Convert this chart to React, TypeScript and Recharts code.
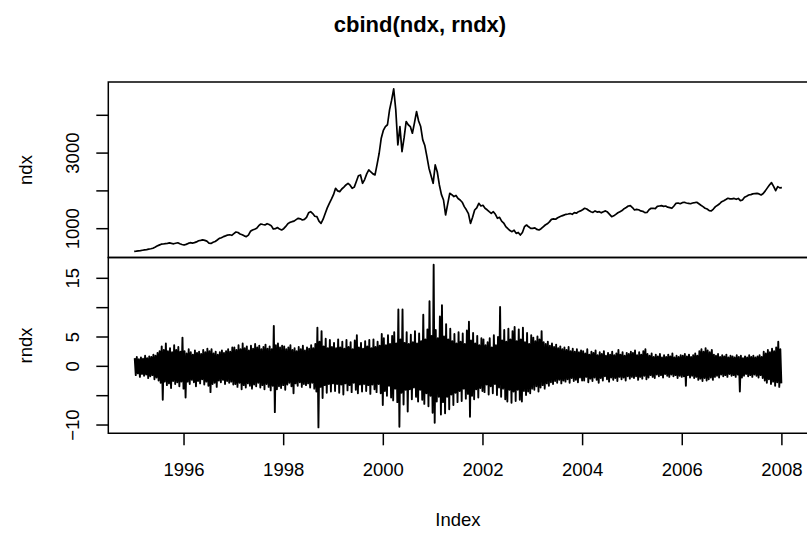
import React from 'react';
import { LineChart, Line, XAxis, YAxis, ReferenceArea } from 'recharts';

// both series are sampled twice a month, starting Jan 1995
const START_YEAR = 1995;
const STEPS_PER_YEAR = 24;

// ndx level (one value per half month, 1995 -> 2008)
const ndx = [
  // 1995
  400, 405, 412, 420, 430, 440, 448, 460, 470, 482, 510, 540, 565, 590, 595, 605, 612, 625, 610, 600, 615, 628, 600, 582,
  // 1996
  567, 585, 610, 629, 620, 630, 650, 680, 691, 705, 690, 670, 620, 610, 640, 660, 700, 744, 760, 790, 810, 832, 840, 825,
  // 1997
  870, 912, 900, 860, 840, 810, 788, 830, 930, 965, 985, 1010, 1080, 1124, 1110, 1100, 1132, 1110, 1080, 991, 1000, 1030, 990, 965,
  // 1998
  1000, 1060, 1130, 1168, 1185, 1200, 1240, 1274, 1260, 1230, 1247, 1300, 1420, 1450, 1400, 1330, 1318, 1200, 1141, 1250, 1400, 1550, 1671, 1780,
  // 1999
  1900, 2068, 2000, 1980, 2050, 2100, 2157, 2200, 2150, 2068, 2100, 2250, 2400, 2422, 2201, 2300, 2450, 2554, 2500, 2450, 2422, 2700, 2996, 3393,
  // 2000
  3600, 3702, 3750, 4143, 4400, 4700, 4143, 3216, 3702, 3040, 3400, 3834, 3750, 3702, 3525, 3800, 4099, 3850, 3702, 3349, 3200, 2907, 2600, 2400,
  // 2001
  2201, 2686, 2500, 2157, 1900, 1759, 1362, 1650, 1936, 1900, 1848, 1880, 1800, 1759, 1700, 1583, 1500, 1400, 1141, 1300, 1494, 1550, 1671, 1600,
  // 2002
  1620, 1539, 1500, 1450, 1406, 1450, 1380, 1274, 1300, 1200, 1150, 1053, 1000, 950, 921, 960, 876, 900, 832, 900, 1053, 1097, 1050, 1009,
  // 2003
  1009, 1020, 980, 965, 1000, 1050, 1097, 1130, 1180, 1247, 1260, 1250, 1290, 1318, 1340, 1360, 1380, 1389, 1400, 1380, 1424, 1410, 1450, 1470,
  // 2004
  1500, 1539, 1520, 1480, 1450, 1430, 1470, 1440, 1450, 1420, 1450, 1470, 1440, 1380, 1318, 1340, 1380, 1420, 1450, 1480, 1530, 1560, 1600, 1610,
  // 2005
  1560, 1494, 1510, 1500, 1470, 1460, 1424, 1430, 1500, 1539, 1540, 1530, 1590, 1600, 1609, 1590, 1600, 1570, 1556, 1540, 1600, 1671, 1680, 1660,
  // 2006
  1689, 1700, 1680, 1671, 1660, 1680, 1689, 1700, 1660, 1620, 1583, 1540, 1520, 1477, 1470, 1520, 1583, 1620, 1660, 1715, 1740, 1770, 1804, 1790,
  // 2007
  1790, 1800, 1777, 1800, 1742, 1760, 1830, 1860, 1892, 1900, 1920, 1930, 1936, 1920, 1892, 1930, 2000, 2080, 2157, 2219, 2120, 2006, 2113, 2080,
  // Jan 2008
  2086,
];

// rndx (returns, %): highest and lowest value seen in each half month, one row per year
const rndxHigh = [
  1.4, 1.6, 1.2, 1.5, 1.3, 1.8, 1.4, 1.7, 1.6, 2.0, 1.8, 2.3, 2.6, 3.4, 2.8, 3.9, 2.6, 3.1, 2.4, 3.6, 2.8, 3.3, 2.5, 4.9,
  2.6, 2.2, 2.9, 2.4, 2.0, 2.7, 2.3, 2.5, 2.1, 2.8, 2.4, 3.0, 2.6, 2.9, 2.2, 2.5, 2.0, 2.4, 2.7, 2.3, 2.6, 2.9, 2.5, 3.2,
  3.2, 2.8, 3.6, 2.9, 3.9, 3.1, 3.4, 2.7, 3.5, 3.0, 3.8, 3.2, 3.5, 2.9, 3.3, 3.7, 3.0, 3.4, 2.9, 6.9, 3.6, 3.9, 3.2, 3.5,
  3.4, 2.9, 3.2, 3.6, 2.8, 3.1, 2.6, 3.3, 2.9, 3.5, 2.7, 3.2, 3.0, 3.6, 3.1, 3.8, 6.6, 4.2, 6.0, 3.4, 4.7, 3.1, 4.5, 3.3,
  4.0, 3.1, 4.6, 3.2, 4.2, 3.0, 4.5, 3.3, 4.1, 2.9, 4.4, 5.3, 3.2, 4.0, 3.0, 4.3, 3.4, 4.5, 3.1, 4.6, 3.3, 4.2, 3.5, 5.5,
  4.8, 3.6, 5.3, 3.8, 5.2, 5.8, 3.9, 9.7, 4.6, 9.7, 4.0, 5.8, 3.8, 5.4, 4.1, 6.0, 3.9, 5.6, 4.3, 8.8, 4.6, 6.3, 11.1, 5.2,
  17.3, 6.2, 4.8, 8.5, 10.4, 5.1, 7.2, 4.6, 6.4, 4.3, 5.5, 3.9, 5.8, 4.2, 5.6, 3.8, 6.1, 7.6, 4.4, 5.7, 3.9, 5.2, 3.6, 4.8,
  4.6, 3.6, 4.1, 4.8, 3.2, 5.3, 3.6, 5.0, 10.1, 4.4, 6.2, 4.2, 6.4, 4.6, 6.0, 6.7, 4.3, 6.3, 4.6, 6.6, 4.1, 5.7, 3.8, 5.3,
  4.9, 4.3, 5.1, 4.6, 6.0, 4.1, 3.8, 4.2, 3.5, 3.9, 3.3, 3.7, 3.1, 3.4, 2.9, 3.2, 2.8, 3.3, 2.6, 3.0, 2.5, 2.9, 2.4, 2.7,
  2.6, 2.2, 2.9, 2.0, 2.5, 2.3, 2.7, 1.9, 2.4, 2.1, 2.6, 1.8, 2.3, 2.0, 2.5, 1.9, 2.2, 2.8, 2.0, 2.4, 1.8, 2.3, 2.1, 2.5,
  2.3, 2.7, 1.9, 2.4, 2.0, 2.6, 2.9, 2.1, 1.8, 2.2, 1.6, 2.0, 1.7, 2.1, 1.5, 1.9, 1.6, 2.0, 1.7, 2.2, 1.5, 1.8, 1.6, 1.9,
  1.8, 2.1, 1.7, 2.0, 1.6, 1.9, 2.2, 1.8, 2.6, 2.9, 2.5, 3.1, 2.7, 2.4, 2.8, 2.0, 1.8, 2.1, 1.6, 1.9, 1.7, 2.0, 1.5, 1.8,
  1.7, 1.5, 1.9, 1.6, 1.8, 1.4, 1.7, 1.5, 1.9, 1.6, 1.8, 1.5, 1.7, 1.9, 1.6, 2.5, 2.2, 2.8, 2.4, 3.0, 2.6, 3.2, 4.2, 2.9,
];

const rndxLow = [
  -1.5, -1.2, -1.8, -1.3, -1.6, -1.4, -2.0, -1.7, -1.5, -2.2, -1.9, -2.4, -2.8, -5.7, -2.6, -3.2, -2.9, -3.7, -2.5, -3.0, -2.7, -3.4, -2.6, -3.8,
  -5.3, -2.6, -3.0, -2.3, -2.7, -3.4, -2.5, -2.9, -2.2, -3.1, -2.6, -3.3, -4.4, -3.0, -2.8, -3.5, -2.4, -2.7, -2.3, -3.0, -2.5, -2.8, -2.6, -3.1,
  -3.0, -3.5, -2.8, -3.9, -3.2, -3.6, -2.9, -3.3, -3.8, -3.1, -3.4, -2.8, -3.6, -3.2, -3.9, -3.0, -3.5, -4.1, -3.3, -7.8, -3.9, -3.4, -3.7, -3.2,
  -4.0, -3.1, -2.8, -3.4, -4.6, -2.9, -3.3, -2.7, -3.5, -3.0, -3.2, -2.9, -3.6, -2.8, -3.8, -4.3, -10.4, -3.5, -5.4, -3.2, -4.5, -3.0, -4.3, -2.9,
  -4.2, -3.0, -4.5, -3.1, -4.8, -2.9, -4.1, -3.2, -4.4, -2.8, -4.0, -4.6, -3.1, -4.3, -3.0, -4.2, -3.2, -4.7, -3.1, -3.9, -4.4, -3.0, -4.6, -6.6,
  -4.2, -5.0, -3.3, -5.3, -5.8, -3.8, -6.1, -10.3, -4.5, -6.5, -4.0, -7.7, -3.9, -5.6, -3.6, -5.2, -6.0, -4.0, -5.7, -6.4, -4.6, -6.8, -5.0, -7.9,
  -9.6, -6.0, -5.2, -8.2, -6.1, -8.0, -5.2, -7.3, -4.8, -6.6, -4.5, -6.1, -4.2, -5.9, -3.8, -5.5, -4.7, -8.6, -5.0, -5.6, -3.9, -5.3, -3.7, -4.2,
  -4.4, -3.1, -4.8, -3.4, -4.6, -3.0, -4.9, -3.6, -5.2, -3.8, -5.6, -6.0, -4.0, -6.2, -4.3, -5.9, -4.0, -5.7, -6.0, -4.2, -4.9, -4.3, -4.6, -3.8,
  -4.0, -3.4, -4.3, -3.6, -3.2, -3.8, -2.9, -3.3, -2.7, -3.0, -2.5, -2.8, -2.3, -2.9, -2.4, -2.6, -2.2, -2.8, -2.0, -2.5, -2.3, -2.7, -1.9, -2.4,
  -2.4, -1.8, -2.7, -2.1, -2.5, -1.9, -2.3, -2.8, -2.0, -2.4, -1.7, -2.2, -2.6, -1.9, -2.3, -2.0, -2.5, -1.8, -2.2, -1.9, -2.4, -1.7, -2.1, -1.8,
  -2.0, -1.7, -2.3, -1.8, -2.1, -1.6, -2.2, -1.9, -1.5, -1.8, -2.0, -1.4, -1.7, -1.5, -1.9, -1.3, -1.6, -1.8, -1.4, -1.7, -1.5, -2.0, -1.6, -1.8,
  -1.7, -3.3, -1.5, -1.9, -1.6, -2.0, -1.8, -2.3, -2.1, -2.5, -2.0, -2.4, -2.2, -1.9, -2.3, -1.8, -1.6, -1.9, -1.4, -1.7, -1.5, -1.8, -1.3, -1.6,
  -1.5, -1.8, -1.4, -4.3, -1.9, -1.6, -1.3, -1.7, -1.5, -1.8, -1.4, -1.6, -1.9, -1.5, -2.0, -2.4, -2.8, -2.2, -3.0, -2.6, -3.3, -2.7, -3.5, -2.9,
];

const yearTicks = [1996, 1998, 2000, 2002, 2004, 2006, 2008];
const ndxTicks = [1000, 2000, 3000, 4000];
const ndxLabelled = [1000, 3000];
const rndxTicks = [-10, -5, 0, 5, 10, 15];
const rndxLabelled = [-10, 0, 5, 15];

const ndxData = ndx.map((v, i) => ({ t: START_YEAR + i / STEPS_PER_YEAR, ndx: v }));
const rndxData = rndxHigh.flatMap((hi, i) => [
  { t: START_YEAR + (i + 0.25) / STEPS_PER_YEAR, rndx: hi },
  { t: START_YEAR + (i + 0.75) / STEPS_PER_YEAR, rndx: rndxLow[i] },
]);

const X_DOMAIN: [number, number] = [1994.48, 2008.52];
const NDX_DOMAIN: [number, number] = [235, 4881];
const RNDX_DOMAIN: [number, number] = [-11.41, 18.53];

const FONT = '"Liberation Sans", Arial, Helvetica, sans-serif';
const AXIS_FS = 18.5;
const W = 830; // a bit wider than the page, the right side of the box is cut off like in R's output
const H = 533;
const Y_AXIS_W = 60;
const PLOT_LEFT = 108.3;
const PLOT_RIGHT = 807.8;
const TOP_Y = 82;
const MID_Y = 257.6;
const BOTTOM_Y = 433.3;
const X_AXIS_H = 70;

const fmtMinus = (v: number) => (v < 0 ? '\u2212' + Math.abs(v) : String(v));

const makeYTick = (labelled: number[]) => (props: any) => {
  const { x, y, payload } = props;
  if (!labelled.includes(payload.value)) return <g />;
  const cx = x - 24;
  return (
    <text
      x={cx}
      y={y}
      transform={`rotate(-90 ${cx} ${y})`}
      textAnchor="middle"
      dominantBaseline="central"
      fontSize={AXIS_FS}
      fontFamily={FONT}
      fill="#000"
    >
      {fmtMinus(payload.value)}
    </text>
  );
};

const XTick = (props: any) => {
  const { x, y, payload } = props;
  return (
    <text x={x} y={y + 24} textAnchor="middle" dominantBaseline="central" fontSize={AXIS_FS} fontFamily={FONT} fill="#000">
      {payload.value}
    </text>
  );
};

const tickLine = { stroke: '#000', strokeWidth: 1.5 };

export default function App() {
  return (
    <div style={{ position: 'absolute', left: 0, top: 0, width: 807, height: 533, overflow: 'hidden', background: '#fff' }}>
      <div style={{ position: 'absolute', left: 0, top: 0 }}>
        <LineChart
          width={W}
          height={H}
          data={ndxData}
          margin={{ top: TOP_Y, right: W - PLOT_RIGHT, bottom: H - MID_Y, left: PLOT_LEFT - Y_AXIS_W }}
        >
          <XAxis type="number" dataKey="t" domain={X_DOMAIN} hide allowDataOverflow />
          <YAxis
            type="number"
            domain={NDX_DOMAIN}
            ticks={ndxTicks}
            interval={0}
            width={Y_AXIS_W}
            tickSize={12}
            tickMargin={0}
            axisLine={false}
            tickLine={tickLine}
            tick={makeYTick(ndxLabelled)}
            allowDataOverflow
          />
          <ReferenceArea
            x1={X_DOMAIN[0]}
            x2={X_DOMAIN[1]}
            y1={NDX_DOMAIN[0]}
            y2={NDX_DOMAIN[1]}
            fill="none"
            stroke="#000"
            strokeWidth={1.5}
          />
          <Line
            type="linear"
            dataKey="ndx"
            stroke="#000"
            strokeWidth={1.7}
            strokeLinejoin="round"
            dot={false}
            isAnimationActive={false}
          />
        </LineChart>
      </div>

      <div style={{ position: 'absolute', left: 0, top: 0 }}>
        <LineChart
          width={W}
          height={H}
          data={rndxData}
          margin={{ top: MID_Y, right: W - PLOT_RIGHT, bottom: H - BOTTOM_Y - X_AXIS_H, left: PLOT_LEFT - Y_AXIS_W }}
        >
          <XAxis
            type="number"
            dataKey="t"
            domain={X_DOMAIN}
            ticks={yearTicks}
            interval={0}
            height={X_AXIS_H}
            tickSize={12}
            tickMargin={0}
            axisLine={false}
            tickLine={tickLine}
            tick={<XTick />}
            allowDataOverflow
          />
          <YAxis
            type="number"
            domain={RNDX_DOMAIN}
            ticks={rndxTicks}
            interval={0}
            width={Y_AXIS_W}
            tickSize={12}
            tickMargin={0}
            axisLine={false}
            tickLine={tickLine}
            tick={makeYTick(rndxLabelled)}
            allowDataOverflow
          />
          <ReferenceArea
            x1={X_DOMAIN[0]}
            x2={X_DOMAIN[1]}
            y1={RNDX_DOMAIN[0]}
            y2={RNDX_DOMAIN[1]}
            fill="none"
            stroke="#000"
            strokeWidth={1.5}
          />
          <Line
            type="linear"
            dataKey="rndx"
            stroke="#000"
            strokeWidth={1.9}
            strokeLinejoin="round"
            dot={false}
            isAnimationActive={false}
          />
        </LineChart>
      </div>

      <svg width={807} height={533} style={{ position: 'absolute', left: 0, top: 0, pointerEvents: 'none' }}>
        <text x={420} y={24} textAnchor="middle" dominantBaseline="central" fontSize={22} fontWeight="bold" fontFamily={FONT}>
          cbind(ndx, rndx)
        </text>
        <text x={25} y={170} transform="rotate(-90 25 170)" textAnchor="middle" dominantBaseline="central" fontSize={AXIS_FS} fontFamily={FONT}>
          ndx
        </text>
        <text x={25} y={345.5} transform="rotate(-90 25 345.5)" textAnchor="middle" dominantBaseline="central" fontSize={AXIS_FS} fontFamily={FONT}>
          rndx
        </text>
        <text x={458} y={519} textAnchor="middle" dominantBaseline="central" fontSize={AXIS_FS} fontFamily={FONT}>
          Index
        </text>
      </svg>
    </div>
  );
}
